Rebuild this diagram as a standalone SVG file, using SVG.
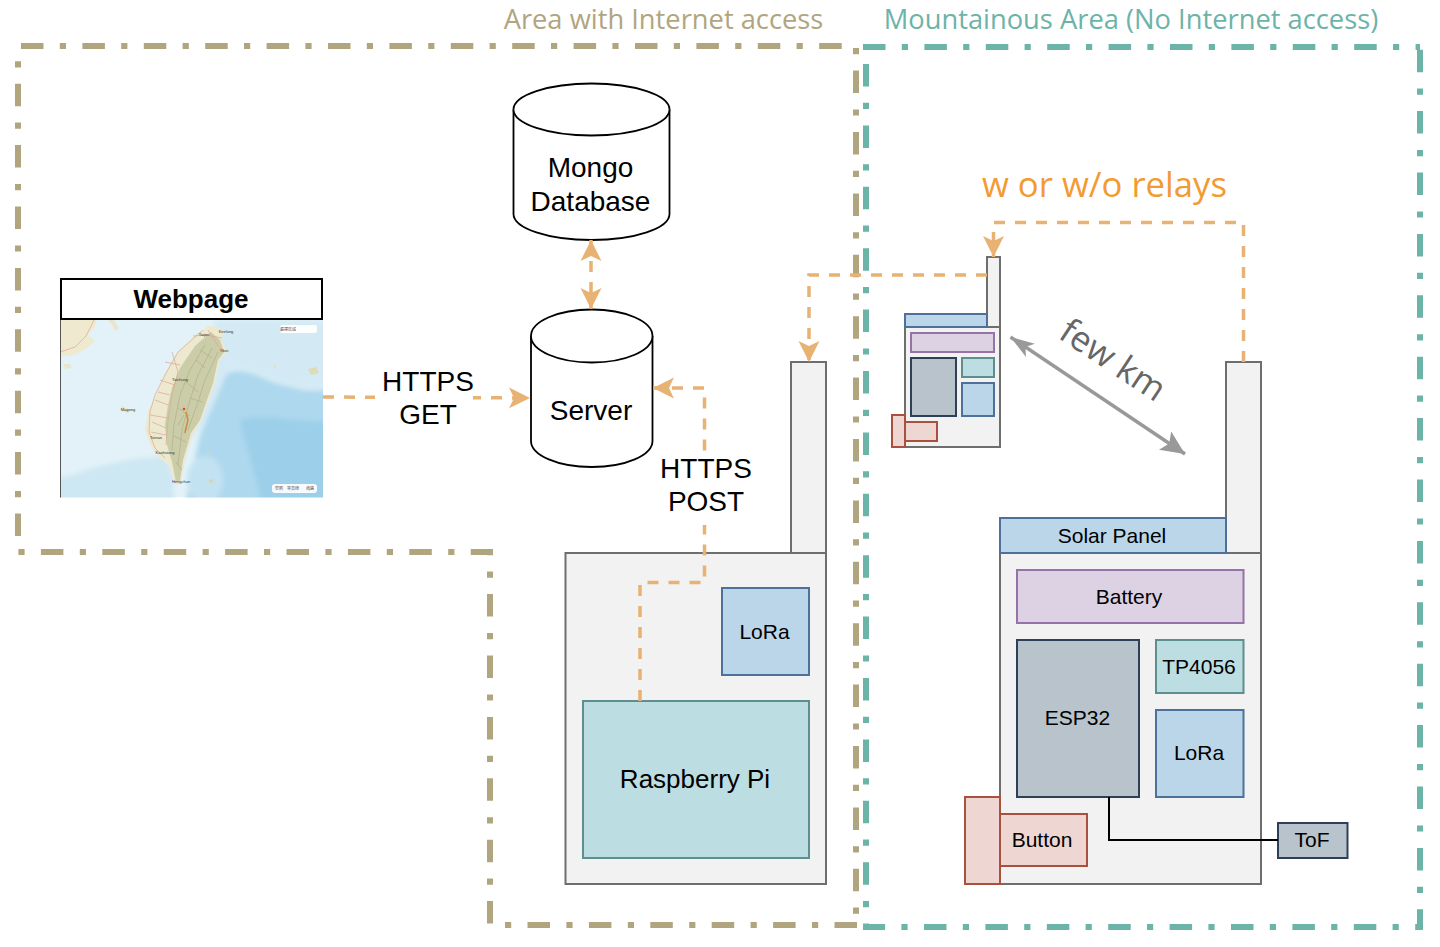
<svg xmlns="http://www.w3.org/2000/svg" width="1440" height="947" viewBox="0 0 1440 947">
<style>
text{font-family:"Liberation Sans",Arial,sans-serif;fill:#000;text-anchor:middle}
.os{font-family:"Open Sans","Noto Sans",sans-serif}
.area{fill:none;stroke-width:6;stroke-dasharray:22.5 16.3 6.2 16.4}
.tan{stroke:#b1a57f}.teal{stroke:#6cb3a8}
.dev{fill:#f2f2f2;stroke:#6e6e6e;stroke-width:2}
.blue{fill:#bcd6e9;stroke:#4d7199;stroke-width:2}
.green{fill:#bcdde1;stroke:#5c8f8e;stroke-width:2}
.purple{fill:#dcd2e4;stroke:#9673a6;stroke-width:2}
.grey{fill:#b8c3cc;stroke:#2d4057;stroke-width:2}
.red{fill:#eed6d3;stroke:#a9503f;stroke-width:2}
.cyl{fill:#fff;stroke:#000;stroke-width:1.8}
.link{fill:none;stroke:#e8b273;stroke-width:3.500;stroke-dasharray:11 10}
.t21{font-size:21px}.t28{font-size:28px}
.lbg{fill:#fff}
.road{fill:none;stroke:#dda88f;stroke-width:.7}
.ridge{fill:none;stroke:#a9ab82;stroke-width:.8;opacity:.7}
.pill{fill:#fff;fill-opacity:.92}
.mapt{font-size:4px;fill:#333}
.cjk{font-family:"Liberation Sans","Noto Sans CJK TC",sans-serif;font-size:4px;fill:#555}
.isle{fill:#e9e6cc}
</style>
<defs>
<marker id="arr" markerUnits="userSpaceOnUse" markerWidth="24" markerHeight="24" refX="21" refY="11" orient="auto-start-reverse"><path d="M0 .5L21 11L0 21.500L5 11Z" fill="#e8b273"/></marker>
<marker id="gs" markerUnits="userSpaceOnUse" markerWidth="26" markerHeight="20" refX="24" refY="9" orient="auto-start-reverse"><path d="M0 1L24 9L0 17L6 9Z" fill="#999"/></marker>
<marker id="ge" markerUnits="userSpaceOnUse" markerWidth="26" markerHeight="24" refX="24" refY="11" orient="auto"><path d="M0 0L24 11L0 22L5 11Z" fill="#999"/></marker>
<filter id="soft" x="-10%" y="-10%" width="120%" height="120%"><feGaussianBlur stdDeviation="2.500"/></filter>
<filter id="tiny" x="-5%" y="-5%" width="110%" height="110%"><feGaussianBlur stdDeviation=".4"/></filter>
<clipPath id="mapclip"><rect x="60" y="320" width="263" height="177.500"/></clipPath>
</defs>
<rect width="1440" height="947" fill="#fff"/>

<g id="area-internet">
<path class="area tan" d="M21 46H856V925"/>
<path class="area tan" d="M857 925H490V552H18V46"/>
<text class="os" x="663.500" y="29" font-size="27.300" style="fill:#b1a57f">Area with Internet access</text>
</g>
<g id="area-mountain">
<path class="area teal" d="M863 47H1420"/>
<path class="area teal" d="M866 64V927H1420V47"/>
<text class="os" x="1131" y="29" font-size="27.300" style="fill:#6cb3a8">Mountainous Area (No Internet access)</text>
</g>

<g id="webpage">
<g clip-path="url(#mapclip)">
<rect x="60" y="320" width="263" height="177.500" fill="#e2f2f8"/>
<g filter="url(#soft)">
<path d="M215 320H330V385C310 392 295 385 280 382C262 378 245 362 226 372L205 420L190 440L170 497H100L150 470L200 400Z" fill="#d3eaf4"/>
<path d="M226 374C245 364 262 380 280 384C295 387 310 394 330 388V505H185L200 435Z" fill="#aed8ee"/>
<path d="M240 420C270 412 300 425 330 420V505H262C255 470 245 445 240 420Z" fill="#9ccfe9"/>
<path d="M55 480C90 470 130 455 165 458L176 505H55Z" fill="#cde7f3"/>
<ellipse cx="205" cy="480" rx="18" ry="24" fill="#c3e2f1"/>
</g>
<g filter="url(#tiny)">
<path d="M60 318H97L95 326L88 335L95 341L87 348L78 353L70 356L60 356Z" fill="#efe9d0"/>
<path class="road" d="M60 352L75 347L86 336L94 320"/>
<path class="isle" d="M108 320L114 320L119 328L115 331L112 325Z"/>
<path class="isle" d="M63 364L70 364L72 368L65 369Z"/>
<path class="isle" d="M121 405L126 408L131 410L128 413L122 411Z"/>
<path d="M308 369L316 367L319 373L311 375Z" fill="#dcdcb9"/>
<circle cx="275" cy="366" r="1.500" fill="#e1e1c4"/>
<circle cx="208" cy="452" r="1.200" fill="#d5d5b0"/><circle cx="211" cy="481" r="2" fill="#d5d5b0"/>
<path d="M208.300 326L218.300 326.700L224 331.700L221.700 340L226.700 351.700L220 360L215 383.300L210 396.700L201.700 420L193.300 433.300L185 460L181.700 480L176.700 486L173.300 480L170 466.700L160 458.300L151.700 448.300L145 430L148.300 410L158.300 390L165 373.300L176.700 353.300L193.300 336.700Z" fill="#ece9d0"/>
<path d="M211 332L220 340L224 352L218 360L213 383L208 397L200 420L191 433L183 460L180 481L176 482L172 462L167 445L165 425L168 405L172 388L180 368L195 346Z" fill="#cbcca8"/>
<path class="ridge" d="M205 345L190 370L180 395L174 425L172 450M212 348L198 375L190 400L182 430L178 465M218 352L205 380L197 405L188 430M196 360L205 368M186 382L198 392M178 408L190 416M174 436L186 442M200 350L212 358M176 462L182 470M190 398L202 402M184 415L178 425"/>
<path class="road" d="M203 330L178 352L165 375L155 395L150 412L149 432L155 448L165 458M172 352L178 372L172 395L168 420L166 445M158 392L170 395M150 415L168 418M151 432L166 435M193 336L206 335L222 338M155 400L168 405M152 422L166 428M160 380L175 385M165 362L180 365M208 330L218 346L224 352"/>
<path d="M186 412L188 420L186 428L185 433" fill="none" stroke="#d08a3c" stroke-width="1.500"/>
<circle cx="184" cy="409" r="1.300" fill="#e2453b"/>
</g>
<rect class="pill" x="280" y="325" width="37" height="8" rx="2"/>
<rect class="pill" x="272" y="484" width="45" height="9" rx="3"/>
<text class="cjk" x="288" y="330.500">選擇區域</text>
<text class="cjk" x="279" y="490">空照</text>
<text class="cjk" x="293" y="490">等高線</text>
<text class="cjk" x="310" y="490">道路</text>
<text class="mapt" x="204" y="335.500">Taipei</text>
<text class="mapt" x="226" y="333">Keelung</text>
<text class="mapt" x="224" y="352">Yilan</text>
<text class="mapt" x="180" y="381">Taichung</text>
<text class="mapt" x="156" y="439">Tainan</text>
<text class="mapt" x="165" y="454">Kaohsiung</text>
<text class="mapt" x="181" y="483">Hengchun</text>
<text class="mapt" x="128" y="411">Magong</text>
</g>
<path d="M60.500 320V497.500" stroke="#555" stroke-width="1" fill="none"/>
<rect x="61" y="279" width="261" height="40" fill="#fff" stroke="#000" stroke-width="2"/>
<text x="191" y="308" font-size="26" font-weight="700">Webpage</text>
</g>

<g id="mongo">
<path class="cyl" d="M513.500 109.500A78 26 0 0 1 669.500 109.500V214A78 26 0 0 1 513.500 214Z"/>
<path class="cyl" d="M513.500 109.500A78 26 0 0 0 669.500 109.500"/>
<text class="t28" x="590.500" y="177">Mongo</text>
<text class="t28" x="590.500" y="211">Database</text>
</g>
<g id="server">
<path class="cyl" d="M531 336A60.750 26.500 0 0 1 652.500 336V441A60.750 26 0 0 1 531 441Z"/>
<path class="cyl" d="M531 336A60.750 26.500 0 0 0 652.500 336"/>
<text class="t28" x="591" y="420">Server</text>
</g>

<g id="gateway">
<rect class="dev" x="791" y="362" width="35" height="191"/>
<rect class="dev" x="565.500" y="553" width="260.500" height="331"/>
</g>
<g id="gateway-lora"><rect class="blue" x="722" y="588" width="87" height="87"/><text class="t21" x="764.500" y="639">LoRa</text></g>
<g id="raspberry-pi"><rect class="green" x="583" y="701" width="226" height="157"/><text x="695" y="788" font-size="26">Raspberry Pi</text></g>

<g id="node">
<rect class="dev" x="1226" y="362" width="35" height="191"/>
<rect class="dev" x="1000" y="553" width="261" height="331"/>
</g>
<g id="solar"><rect class="blue" x="1000" y="518" width="226" height="35"/><text class="t21" x="1112" y="543">Solar Panel</text></g>
<g id="battery"><rect class="purple" x="1017" y="570" width="226.500" height="53"/><text class="t21" x="1129" y="604">Battery</text></g>
<g id="esp32"><rect class="grey" x="1017" y="640" width="122" height="157"/><text class="t21" x="1077.500" y="725">ESP32</text></g>
<g id="tp4056"><rect class="green" x="1156" y="640" width="87.500" height="53"/><text class="t21" x="1199" y="674">TP4056</text></g>
<g id="node-lora"><rect class="blue" x="1156" y="710" width="87.500" height="87"/><text class="t21" x="1199" y="760">LoRa</text></g>
<g id="button"><rect class="red" x="1000" y="814" width="87" height="52"/><rect class="red" x="965" y="797" width="35" height="87"/><text class="t21" x="1042" y="847">Button</text></g>
<g id="tof"><rect class="grey" x="1278" y="823" width="69.500" height="35"/><text x="1312" y="847" font-size="21">ToF</text></g>

<g id="relay">
<rect class="dev" x="987" y="257" width="13" height="70"/>
<rect class="dev" x="905" y="327" width="95" height="120"/>
<rect class="blue" x="905" y="314" width="82" height="13"/>
<rect class="purple" x="911" y="333" width="83" height="19"/>
<rect class="grey" x="911" y="358" width="45" height="58"/>
<rect class="green" x="962" y="358" width="32" height="19"/>
<rect class="blue" x="962" y="383" width="32" height="33"/>
<rect class="red" x="905" y="422" width="32" height="19"/>
<rect class="red" x="892" y="415" width="13" height="32"/>
</g>

<g id="connectors">
<path class="link" d="M323 397L530 398" marker-end="url(#arr)"/>
<path class="link" d="M591 240V309" marker-start="url(#arr)" marker-end="url(#arr)"/>
<path class="link" d="M640 701V582.500H704.500V388H653" marker-end="url(#arr)"/>
<path class="link" d="M987 275H809V362" marker-end="url(#arr)"/>
<path class="link" d="M1243.500 362V222.500H993.500V257" marker-end="url(#arr)"/>
<path d="M1109 797V840H1278" fill="none" stroke="#000" stroke-width="2"/>
<path d="M1010.500 337L1185 454" fill="none" stroke="#999" stroke-width="3.500" marker-start="url(#gs)" marker-end="url(#ge)"/>
</g>

<g id="labels">
<rect class="lbg" x="375" y="366" width="98" height="66"/>
<text class="t28" x="428" y="391">HTTPS</text>
<text class="t28" x="428" y="424">GET</text>
<rect class="lbg" x="661" y="452" width="90" height="73"/>
<text class="t28" x="706" y="478">HTTPS</text>
<text class="t28" x="706" y="511">POST</text>
<text class="os" x="1113" y="372" font-size="35" transform="rotate(33.500 1113 360)" style="fill:#666">few km</text>
<text class="os" x="1104.500" y="197" font-size="34.700" style="fill:#f29a33">w or w/o relays</text>
</g>
</svg>
